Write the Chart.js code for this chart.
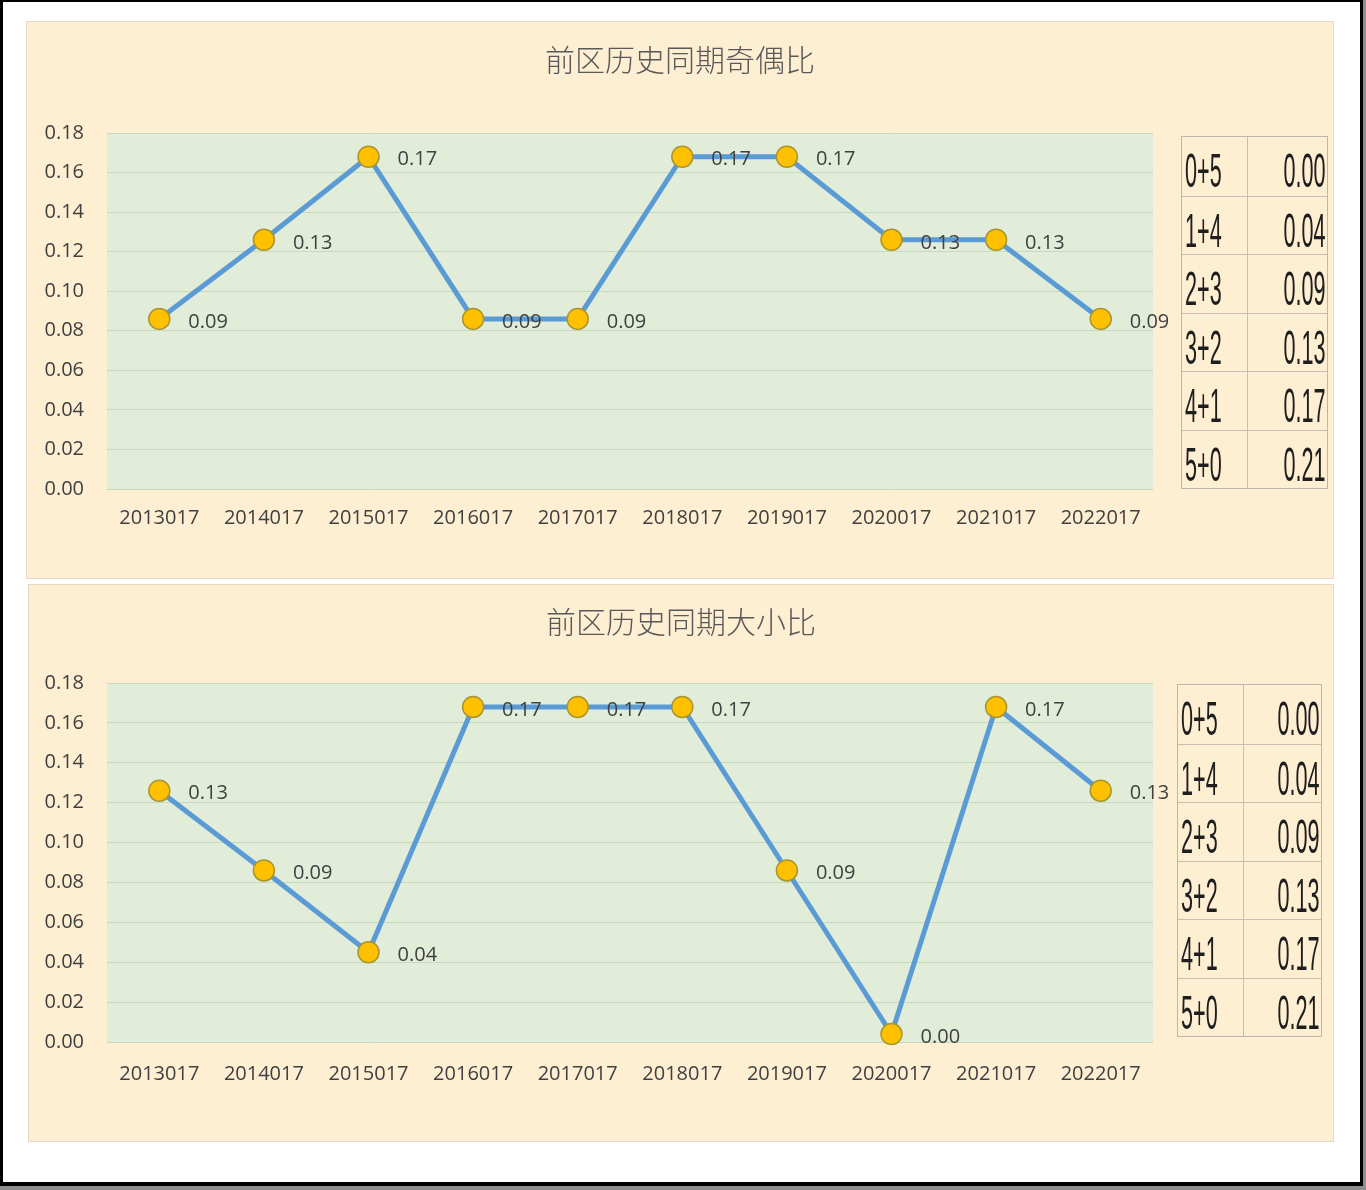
<!DOCTYPE html>
<html>
<head>
<meta charset="utf-8">
<script src="https://cdn.jsdelivr.net/npm/chart.js@4.4.0/dist/chart.umd.min.js"></script>
<style>
html,body{margin:0;padding:0;width:1366px;height:1190px;background:#8e8e8e;overflow:hidden;}
#frame{position:absolute;left:0;top:0;width:1363px;height:1186px;box-sizing:border-box;background:#fff;border-left:3px solid #000;border-top:2px solid #000;border-right:3px solid #000;border-bottom:4px solid #000;}
.panel{position:absolute;box-sizing:border-box;background:#FEEFD3;border:1px solid #E2D8C4;}
canvas{position:absolute;}
.tbl{position:absolute;box-sizing:border-box;border:1px solid #BDB7AA;}
.row{position:absolute;left:0;right:0;box-sizing:border-box;border-top:1px solid #C6BFB1;}
.row.first{border-top:none;}
.cell{position:absolute;top:0;bottom:0;overflow:visible;}
.cell.l{left:0;border-right:1px solid #C6BFB1;}
.cell.r{right:0;}
.cell span{position:absolute;top:10px;font-family:"Liberation Sans",Arial,sans-serif;font-size:48px;line-height:48px;color:#1e1e1e;white-space:nowrap;}
.cell.l span{left:3px;transform:scaleX(0.45);transform-origin:left center;}
.cell.r span{right:2px;transform:scaleX(0.45);transform-origin:right center;}
</style>
</head>
<body>
<div id="frame"></div>
<div class="panel" style="left:26px;top:21px;width:1308px;height:558px;"></div>
<div class="panel" style="left:28px;top:584px;width:1306px;height:558px;"></div>
<canvas id="c1" width="1308" height="558" style="left:26px;top:21px;width:1308px;height:558px;"></canvas>
<canvas id="c2" width="1306" height="558" style="left:28px;top:584px;width:1306px;height:558px;"></canvas>
<div id="t1" class="tbl" style="left:1181px;top:136px;width:147px;height:353px;"></div>
<div id="t2" class="tbl" style="left:1177px;top:684px;width:145px;height:353px;"></div>
<script>
// ---------- data ----------
const categories = ['2013017','2014017','2015017','2016017','2017017','2018017','2019017','2020017','2021017','2022017'];
const oddEvenTitle = '前区历史同期奇偶比';
const oddEvenValues = [0.086, 0.126, 0.168, 0.086, 0.086, 0.168, 0.168, 0.126, 0.126, 0.086];
const bigSmallTitle = '前区历史同期大小比';
const bigSmallValues = [0.126, 0.086, 0.045, 0.168, 0.168, 0.168, 0.086, 0.004, 0.168, 0.126];
const yMin = 0, yMax = 0.18, yStep = 0.02;
const ratioLabels = ['0+5','1+4','2+3','3+2','4+1','5+0'];
const ratioValues = [0.00, 0.04, 0.09, 0.13, 0.17, 0.21];

// ---------- tables ----------
function buildTable(id, splitX){
  const t = document.getElementById(id);
  const h = 351 / ratioLabels.length;
  ratioLabels.forEach((lab, i) => {
    const r = document.createElement('div');
    r.className = 'row' + (i === 0 ? ' first' : '');
    r.style.top = (i * h) + 'px';
    r.style.height = h + 'px';
    const l = document.createElement('div');
    l.className = 'cell l'; l.style.width = splitX + 'px';
    l.innerHTML = '<span>' + lab + '</span>';
    const v = document.createElement('div');
    v.className = 'cell r'; v.style.left = splitX + 'px';
    v.innerHTML = '<span>' + ratioValues[i].toFixed(2) + '</span>';
    r.appendChild(l); r.appendChild(v);
    t.appendChild(r);
  });
}
buildTable('t1', 65);
buildTable('t2', 65);

// ---------- plugins ----------
const areaBg = {
  id: 'areaBg',
  beforeDraw(chart){
    const {ctx, chartArea: a} = chart;
    ctx.save();
    ctx.fillStyle = '#E2EDD9';
    ctx.fillRect(a.left, a.top, a.right - a.left, a.bottom - a.top);
    ctx.restore();
  }
};
const pointLabels = {
  id: 'pointLabels',
  afterDatasetsDraw(chart){
    const {ctx} = chart;
    const meta = chart.getDatasetMeta(0);
    const data = chart.data.datasets[0].data;
    ctx.save();
    ctx.font = '20px "Open Sans", sans-serif';
    ctx.fillStyle = '#404040';
    ctx.textAlign = 'left';
    ctx.textBaseline = 'middle';
    meta.data.forEach((pt, i) => {
      ctx.fillText(data[i].toFixed(2), pt.x + 29, pt.y + 3);
    });
    ctx.restore();
  }
};

function makeChart(id, title, values, cfg){
  return new Chart(document.getElementById(id), {
    type: 'line',
    data: {
      labels: categories,
      datasets: [{
        data: values,
        borderColor: '#5B9BD5',
        borderWidth: 5,
        pointRadius: 10.5,
        pointHoverRadius: 10.5,
        pointBackgroundColor: '#FFC000',
        pointBorderColor: '#A8952F',
        pointBorderWidth: 1.5,
        tension: 0,
        clip: false
      }]
    },
    options: {
      responsive: false,
      animation: false,
      devicePixelRatio: 1,
      layout: { padding: 0 },
      plugins: {
        legend: { display: false },
        tooltip: { enabled: false },
        title: {
          display: true,
          text: title,
          color: '#595959',
          font: { family: '"Noto Sans CJK SC", sans-serif', size: 30, weight: 300, lineHeight: 1.2 },
          padding: { top: cfg.titleTop, bottom: cfg.titleBottom }
        }
      },
      scales: {
        x: {
          offset: true,
          grid: { display: false },
          border: { display: false },
          ticks: { color: '#404040', font: { family: '"Open Sans", sans-serif', size: 20 }, padding: cfg.xPad, maxRotation: 0, autoSkip: false },
          afterFit(s){ s.height = cfg.xHeight; }
        },
        y: {
          min: yMin, max: yMax,
          grid: { color: '#C6D9BE', lineWidth: 1, drawTicks: false },
          border: { display: false },
          ticks: { stepSize: yStep, color: '#404040', padding: 23, font: { family: '"Open Sans", sans-serif', size: 20 }, callback: v => Number(v).toFixed(2) },
          afterFit(s){ s.width = cfg.yWidth; }
        },
        yRight: {
          position: 'right',
          min: yMin, max: yMax,
          grid: { display: false, drawTicks: false },
          border: { display: false },
          ticks: { display: false },
          afterFit(s){ s.width = 181; }
        }
      }
    },
    plugins: [areaBg, pointLabels]
  });
}

makeChart('c1', oddEvenTitle, oddEvenValues, { titleTop: 21, titleBottom: 55, xPad: 9, xHeight: 90, yWidth: 81 });
makeChart('c2', bigSmallTitle, bigSmallValues, { titleTop: 20, titleBottom: 43, xPad: 12, xHeight: 100, yWidth: 79 });
</script>
</body>
</html>
